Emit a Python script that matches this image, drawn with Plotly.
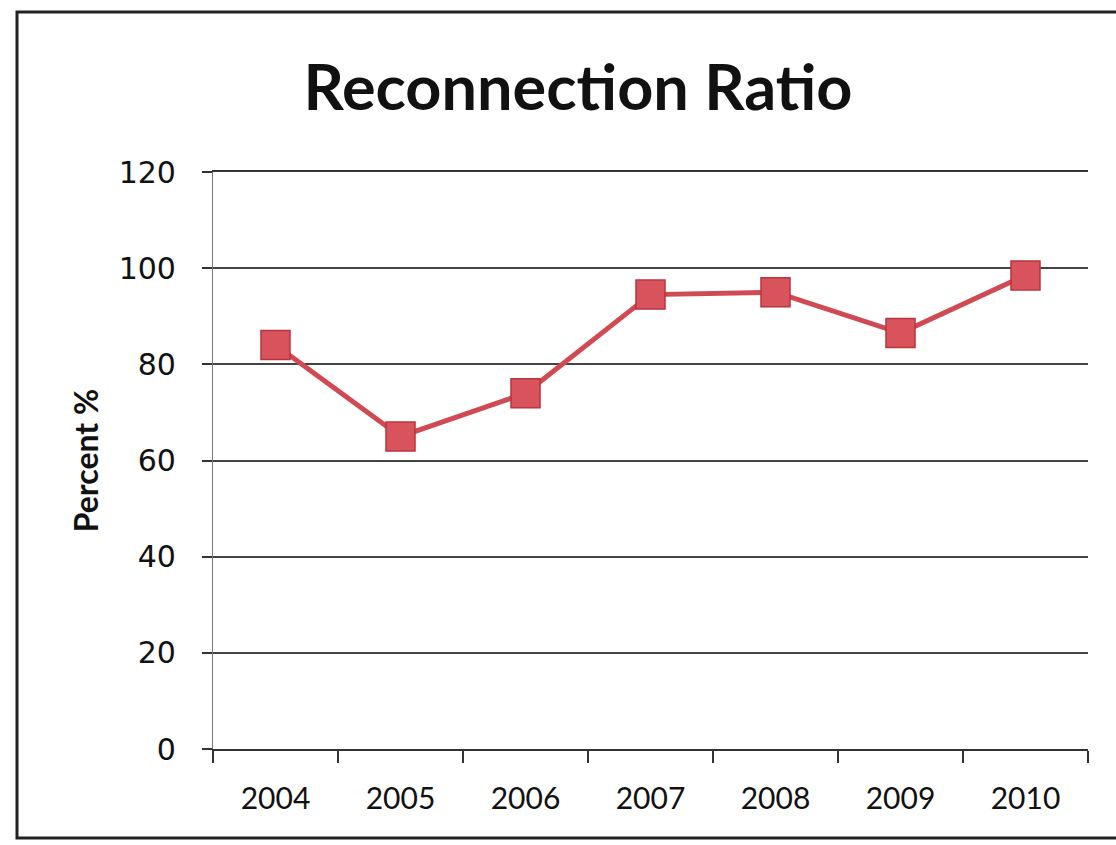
import plotly.graph_objects as go

# Reconnection ratio by year
years = ["2004", "2005", "2006", "2007", "2008", "2009", "2010"]
ratio_pct = [84, 65, 74, 94.5, 95, 86.5, 98.5]
y_ticks = [0, 20, 40, 60, 80, 100, 120]

W, H = 1116, 845
L, R, T, B = 213, 28, 172, 96
pw, ph = W - L - R, H - T - B


def px(x):
    return (x - L) / pw


def py(y):
    return (H - B - y) / ph


fig = go.Figure()
fig.add_trace(go.Scatter(
    x=years, y=ratio_pct, mode="lines+markers",
    line=dict(color="#CF4A52", width=5),
    marker=dict(symbol="square", size=29, color="#D9535C",
                line=dict(color="#B8343E", width=1.5)),
    showlegend=False,
))

fig.update_layout(
    width=W, height=H,
    margin=dict(l=L, r=R, t=T, b=B),
    paper_bgcolor="white", plot_bgcolor="white",
    title=dict(text="<b>Reconnection Ratio</b>", x=578 / W, xanchor="center",
               y=1 - 88 / H, yanchor="middle",
               font=dict(family="Lato", size=63, color="#111111")),
    xaxis=dict(
        type="category", tickson="boundaries", ticks="outside", ticklen=12,
        tickcolor="#333333", tickwidth=1.5,
        showline=True, linecolor="#333333", linewidth=1.5, mirror=True,
        showgrid=False, range=[-0.5, 6.5],
        tickfont=dict(family="Lato", size=30, color="#111111"),
        ticklabelstandoff=22,
    ),
    yaxis=dict(
        range=[0, 120], tickvals=y_ticks, ticks="outside", ticklen=10,
        tickcolor="#333333", tickwidth=1.5,
        showline=True, linecolor="#777777", linewidth=1.2,
        showgrid=True, gridcolor="#444444", gridwidth=1.5,
        zeroline=False,
        tickfont=dict(family="DejaVu Sans", size=30, color="#111111"),
        ticklabelstandoff=20,
        title=dict(text="<b>Percent %</b>", standoff=10,
                   font=dict(family="Lato", size=32, color="#111111")),
    ),
)

# outer chart frame
fig.add_shape(type="rect", xref="paper", yref="paper",
              x0=px(17), x1=px(1125), y0=py(838), y1=py(12),
              line=dict(color="#222222", width=3), layer="below")

fig.write_html("out.html")
